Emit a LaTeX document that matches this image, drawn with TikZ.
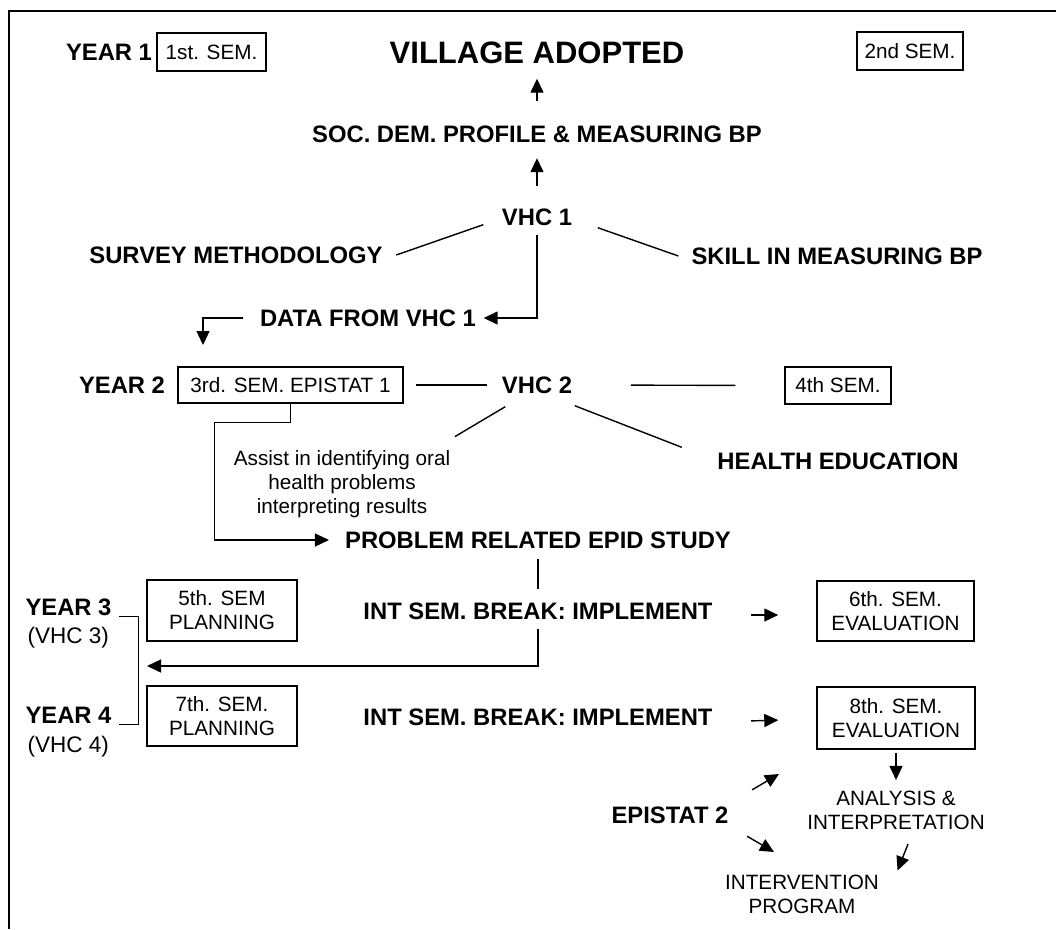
\documentclass[tikz,border=0pt]{standalone}
\usepackage{fontspec}
\setmainfont{Liberation Sans}
\usepackage{tikz}
\usetikzlibrary{positioning, arrows.meta}

\begin{document}
\begin{tikzpicture}[x=1pt, y=-1pt, line width=1.4pt,
    title/.style={font=\fontsize{31}{36}\selectfont\bfseries, inner sep=0pt, text height=22pt, text depth=0pt},
    lbl/.style={font=\fontsize{23.8}{28}\selectfont\bfseries, inner sep=0pt, text height=17pt, text depth=0pt},
    note/.style={font=\fontsize{20.7}{24}\selectfont, inner sep=0pt, align=center},
    sembox/.style={note, draw, line width=1.5pt},
    arr/.style={-{Triangle[length=14pt, width=13pt]}}]

  \useasboundingbox (0,0) rectangle (1056,929);
  \draw[line width=1.8pt] (1056,11) -- (9,11) -- (9,929);

  \node[lbl] (yearone) at (109,52) {YEAR 1};
  \node[sembox, minimum width=109pt, minimum height=38pt] (semone) at (211.5,52) {1st. SEM.};
  \node[title] (village) at (537,52) {VILLAGE ADOPTED};
  \node[sembox, minimum width=106pt, minimum height=38pt] (semtwo) at (910,51) {2nd SEM.};
  \node[lbl] (soc) at (537,134) {SOC. DEM. PROFILE \& MEASURING BP};
  \node[lbl] (vhcone) at (537,217) {VHC 1};
  \node[lbl] (survey) at (236,255) {SURVEY METHODOLOGY};
  \node[lbl] (skill) at (837,256) {SKILL IN MEASURING BP};
  \node[lbl] (data) at (368,318) {DATA FROM VHC 1};
  \coordinate (datadrop) at (203,345);

  \node[lbl] (yeartwo) at (122,385) {YEAR 2};
  \node[sembox, minimum width=225pt, minimum height=36pt] (semthree) at (290.5,385) {3rd. SEM. EPISTAT 1};
  \node[lbl] (vhctwo) at (537,385) {VHC 2};
  \node[sembox, minimum width=106pt, minimum height=37pt] (semfour) at (838,385.5) {4th SEM.};
  \node[lbl] (health) at (838,461) {HEALTH EDUCATION};
  \node[note] (assist) at (342,484) {Assist in identifying oral\\health problems\\interpreting results};
  \node[lbl] (problem) at (538,540) {PROBLEM RELATED EPID STUDY};

  \node[lbl] (yearthree) at (68.5,607) {YEAR 3};
  \node[note, font=\fontsize{22.5}{26}\selectfont, anchor=west] (vhcthree) at (27,638) {(VHC 3)};
  \node[sembox, minimum width=150pt, minimum height=61pt] (semfive) at (222,610.5) {5th. SEM\\PLANNING};
  \node[lbl] (breakone) at (538,611) {INT SEM. BREAK: IMPLEMENT};
  \node[sembox, minimum width=157pt, minimum height=60pt] (semsix) at (895.5,611) {6th. SEM.\\EVALUATION};
  \coordinate (back) at (147,666);

  \node[lbl] (yearfour) at (68.5,715) {YEAR 4};
  \node[note, font=\fontsize{22.5}{26}\selectfont, anchor=west] (vhcfour) at (27,747) {(VHC 4)};
  \node[sembox, minimum width=150pt, minimum height=60pt] (semseven) at (222,716) {7th. SEM.\\PLANNING};
  \node[lbl] (breaktwo) at (538,717) {INT SEM. BREAK: IMPLEMENT};
  \node[sembox, minimum width=158pt, minimum height=62pt] (semeight) at (896,718) {8th. SEM.\\EVALUATION};

  \node[note] (analysis) at (896,810) {ANALYSIS \&\\INTERPRETATION};
  \node[lbl] (epistat) at (670,815) {EPISTAT 2};
  \node[note] (intervention) at (802,894.5) {INTERVENTION\\PROGRAM};
  \coordinate (epiup) at (779,774);
  \coordinate (epidown) at (774,852);

  \draw[arr, shorten <=24pt, shorten >=15pt] (soc.north) -- (village.south);
  \draw[arr, shorten <=22pt, shorten >=15pt] (vhcone.north) -- (soc.south);
  \draw ([xshift=-18pt,yshift=1.5pt]vhcone.south west) -- ([xshift=13pt]survey.east);
  \draw ([xshift=25pt,yshift=-1.5pt]vhcone.south east) -- ([xshift=-12.5pt]skill.west);
  \draw[arr, shorten <=8.5pt, shorten >=7pt] (vhcone.south) |- (data.east);
  \draw[arr] ([xshift=-16pt]data.west) -| (datadrop);

  \draw[shorten <=12pt, shorten >=14pt] (semthree.east) -- (vhctwo.west);
  \draw[shorten <=58pt, shorten >=49pt] (vhctwo.east) -- (semfour.west);
  \draw ([xshift=4pt,yshift=-12.5pt]vhctwo.south west) -- ([xshift=4pt,yshift=13pt]assist.north east);
  \draw ([xshift=2pt,yshift=-11.5pt]vhctwo.south east) -- ([xshift=-35pt,yshift=4.5pt]health.north west);
  \draw[arr, shorten >=15.5pt] (semthree.south) |- ++(-76,19) |- (problem.west);

  \draw[shorten <=10pt, shorten >=13pt] (problem.south) -- (breakone.north);
  \draw[arr, shorten <=9pt] (breakone.south) |- (back);
  \draw ([xshift=7pt]yearthree.south east) -| ([xshift=26.5pt]yearfour.south east) -- ([xshift=7pt]yearfour.south east);
  \draw[arr, shorten <=38pt, shorten >=38pt] ([yshift=-4pt]breakone.east) -- ([yshift=-4pt]semsix.west);
  \draw[arr, shorten <=38pt, shorten >=38pt] ([yshift=-5pt]breaktwo.east) -- ([yshift=-1pt]semeight.west);

  \draw[arr, shorten <=3pt] (semeight.south) -- ([yshift=10pt]analysis.north);
  \draw[arr] ([xshift=23pt,yshift=16pt]epistat.north east) -- (epiup);
  \draw[arr] ([xshift=18pt,yshift=-12pt]epistat.south east) -- (epidown);
  \draw[arr] ([xshift=12pt,yshift=-14pt]analysis.south) -- ([xshift=18pt,yshift=4pt]intervention.north east);
\end{tikzpicture}
\end{document}
